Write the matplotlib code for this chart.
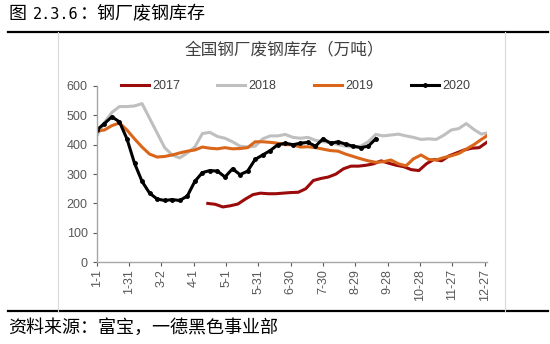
import matplotlib.pyplot as plt
import numpy as np

plt.rcParams['font.family'] = ['Liberation Sans', 'Noto Sans CJK SC', 'DejaVu Sans']

# day-of-year positions (weekly samples)
days_full = np.arange(0, 358, 7).tolist() + [362]

# 2017 starts late in April
days_2017 = np.arange(103, 358, 7).tolist() + [362]
v2017 = [200, 197, 188, 192, 198, 215, 230, 235, 233, 233, 235, 237, 238, 250,
         278, 285, 290, 300, 318, 327, 327, 330, 335, 345, 337, 330, 325, 315,
         312, 335, 350, 345, 362, 372, 382, 388, 390, 408]

v2018 = [430, 475, 510, 530, 530, 532, 540, 490, 440, 390, 365, 355, 372, 392,
         438, 442, 428, 422, 410, 395, 392, 395, 420, 430, 430, 435, 425, 422,
         425, 415, 410, 408, 400, 395, 392, 395, 410, 435, 430, 433, 436, 430,
         425, 418, 420, 418, 432, 450, 455, 472, 452, 436, 440]

v2019 = [447, 450, 465, 474, 450, 420, 392, 368, 358, 360, 365, 372, 378, 382,
         392, 388, 386, 390, 386, 387, 390, 410, 410, 408, 405, 400, 400, 392,
         393, 390, 385, 380, 378, 368, 360, 352, 345, 340, 342, 348, 335, 328,
         352, 365, 350, 348, 356, 362, 370, 385, 400, 418, 430]

days_2020 = np.arange(0, 260, 7).tolist()
v2020 = [450, 472, 495, 478, 420, 337, 275, 235, 215, 210, 213, 210, 225, 275,
         305, 312, 310, 290, 318, 298, 310, 350, 365, 380, 400, 405, 400, 405,
         408, 395, 420, 405, 410, 402, 395, 390, 395, 420]

tick_days = [0, 30, 60, 90, 120, 150, 180, 210, 240, 270, 300, 330, 360]
tick_labels = ['1-1', '1-31', '3-2', '4-1', '5-1', '5-31', '6-30', '7-30',
               '8-29', '9-28', '10-28', '11-27', '12-27']

W, H = 550, 344
fig = plt.figure(figsize=(5.5, 3.44), dpi=100)
cjk = ['Noto Sans CJK SC', 'DejaVu Sans']

# header (figure number set in a monospaced face, like the original)
fig.text(8 / W, 0.958, '图', fontsize=13, family=cjk, va='center', ha='left')
fig.text(33 / W, 0.958, '2.3.6', fontsize=11, family='DejaVu Sans Mono',
         va='center', ha='left')
fig.text(80 / W, 0.958, '：钢厂废钢库存', fontsize=13, family=cjk,
         va='center', ha='left')
fig.add_artist(plt.Line2D([0.015, 0.997], [0.907, 0.907], color='black', lw=1.6))
fig.add_artist(plt.Line2D([0.015, 0.997], [0.096, 0.096], color='black', lw=1.6))
fig.add_artist(plt.Line2D([0.105, 0.105], [0.096, 0.907], color='#d9d9d9', lw=0.8))
fig.add_artist(plt.Line2D([0.918, 0.918], [0.096, 0.907], color='#d9d9d9', lw=0.8))
fig.text(8 / W, 0.047, '资料来源：富宝，一德黑色事业部', fontsize=13,
         family=cjk, va='center', ha='left')

ax = fig.add_axes([0.176, 0.238, 0.709, 0.512])
ax.plot(days_2017, v2017, color='#9B0B0B', lw=2.2, label='2017')
ax.plot(days_full, v2018, color='#BFBFBF', lw=2.2, label='2018')
ax.plot(days_full, v2019, color='#D9661A', lw=2.2, label='2019')
ax.plot(days_2020, v2020, color='black', lw=2.2, marker='o', ms=2.5, label='2020')

ax.set_xlim(0, 362)
ax.set_ylim(0, 600)
ax.set_yticks(range(0, 601, 100))
ax.set_xticks(tick_days)
ax.set_xticklabels(tick_labels, rotation=90)
ax.tick_params(axis='both', colors='#595959', labelsize=9, length=3, width=0.8)
ax.tick_params(axis='x', pad=2)
for s in ['top', 'right']:
    ax.spines[s].set_visible(False)
for s in ['left', 'bottom']:
    ax.spines[s].set_color('#a6a6a6')
    ax.spines[s].set_linewidth(1.0)

ax.set_title('全国钢厂废钢库存（万吨）', fontsize=12, color='#404040',
             family=cjk, pad=23, x=0.48)

ax.legend(loc='center', bbox_to_anchor=(0.509, 1.0), ncol=4, frameon=False,
          fontsize=9, handlelength=2.25, columnspacing=3.0, handletextpad=0.25,
          labelcolor='#404040')

fig.savefig('out.png', dpi=100)
